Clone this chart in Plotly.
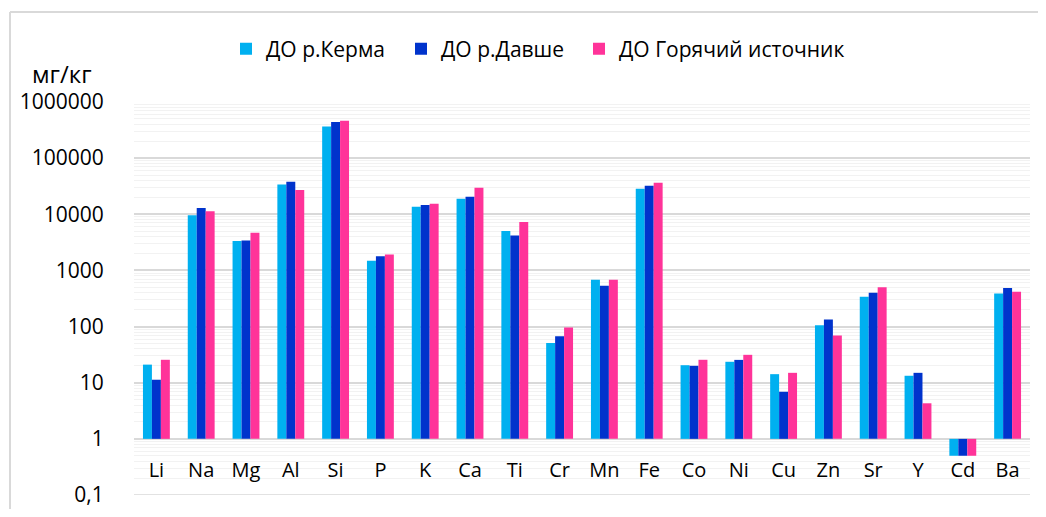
import plotly.graph_objects as go

elements = ["Li", "Na", "Mg", "Al", "Si", "P", "K", "Ca", "Ti", "Cr",
            "Mn", "Fe", "Co", "Ni", "Cu", "Zn", "Sr", "Y", "Cd", "Ba"]

kerma = [21, 9600, 3330, 34000, 365000, 1490, 13650, 19000, 5030, 51,
         683, 28600, 20.5, 23.6, 14.2, 106, 340, 13.3, 0.5, 390]
davshe = [11.3, 13000, 3400, 38000, 442000, 1780, 14600, 20500, 4200, 67,
          533, 32300, 20, 25.5, 6.9, 134, 400, 15, 0.5, 485]
hot_spring = [25.6, 11300, 4700, 27000, 465000, 1930, 15400, 29700, 7300, 96,
              683, 36600, 25.6, 31.4, 15, 69, 500, 4.3, 0.5, 417]

series_names = ["ДО р.Керма", "ДО р.Давше", "ДО Горячий источник"]
series_colors = ["#00B0F0", "#0033CC", "#FF3399"]

tick_vals = [0.1, 1, 10, 100, 1000, 10000, 100000, 1000000]
tick_text = ["0,1", "1", "10", "100", "1000", "10000", "100000", "1000000"]

axis_base = 1  # horizontal axis crosses value axis at 1

FONT = "Open Sans"

# page geometry: the html body adds an 8px margin
OFF = 8
W, H = 1030, 501
PL, PR, PT, PB = 134, 1030, 102, 495   # plot area in page pixels
L, R, T, B = PL - OFF, W - (PR - OFF), PT - OFF, H - (PB - OFF)
pw, ph = W - L - R, H - T - B

def px_x(px):
    return (px - OFF - L) / pw

def px_y(py):
    return (H - B - (py - OFF)) / ph

legend_names = ["legend", "legend2", "legend3"]
legend_square_x = [244, 419, 597]

fig = go.Figure()
for name, vals, col, lg in zip(series_names, [kerma, davshe, hot_spring], series_colors, legend_names):
    fig.add_trace(go.Bar(
        x=elements,
        y=[v - axis_base for v in vals],
        base=axis_base,
        name=name,
        legend=lg,
        marker=dict(color=col, line=dict(width=0)),
        customdata=vals,
        hovertemplate="%{x}: %{customdata}<extra>" + name + "</extra>",
    ))

legend_common = dict(
    orientation="h",
    yanchor="middle",
    y=px_y(49),
    xanchor="left",
    font=dict(family=FONT, size=21, color="#000000"),
    itemwidth=30,
    bgcolor="rgba(0,0,0,0)",
)

layout_legends = {}
for lg, sx in zip(legend_names, legend_square_x):
    layout_legends[lg] = dict(legend_common, x=px_x(sx - 18))

fig.update_layout(
    width=W, height=H,
    margin=dict(l=L, r=R, t=T, b=B, autoexpand=False),
    paper_bgcolor="white",
    plot_bgcolor="white",
    font=dict(family=FONT, color="#000000"),
    barmode="group",
    bargap=0.4,
    bargroupgap=0,
    showlegend=True,
    xaxis=dict(
        type="category",
        range=[-0.5, len(elements) - 0.5],
        showgrid=False,
        showline=False,
        zeroline=False,
        anchor="free",
        position=1 / 7,
        ticks="outside",
        ticklen=13,
        tickcolor="rgba(0,0,0,0)",
        tickfont=dict(family=FONT, size=20, color="#000000"),
        automargin=False,
    ),
    yaxis=dict(
        type="log",
        range=[-1, 6],
        tickvals=tick_vals,
        ticktext=tick_text,
        showgrid=True,
        gridcolor="#D9D9D9",
        gridwidth=1.5,
        showline=False,
        zeroline=False,
        ticks="outside",
        ticklen=25,
        tickcolor="rgba(0,0,0,0)",
        tickfont=dict(family=FONT, size=21, color="#000000"),
        minor=dict(showgrid=True, gridcolor="#F2F2F2", gridwidth=1, dtick="D1"),
        automargin=False,
    ),
    annotations=[dict(
        text="мг/кг", xref="paper", yref="paper",
        x=px_x(62), y=px_y(73), xanchor="center", yanchor="middle",
        showarrow=False, font=dict(family=FONT, size=24, color="#000000"),
    )],
    shapes=[
        dict(type="line", xref="paper", yref="paper",
             x0=px_x(10), x1=px_x(10), y0=px_y(530), y1=px_y(12),
             line=dict(color="#D9D9D9", width=2)),
        dict(type="line", xref="paper", yref="paper",
             x0=px_x(10), x1=px_x(1060), y0=px_y(12), y1=px_y(12),
             line=dict(color="#D9D9D9", width=2)),
        dict(type="line", xref="paper", yref="y",
             x0=0, x1=1, y0=tick_vals[0], y1=tick_vals[0],
             line=dict(color="#D9D9D9", width=1.5), layer="below"),
    ],
    **layout_legends,
)

fig.write_html("out.html")
